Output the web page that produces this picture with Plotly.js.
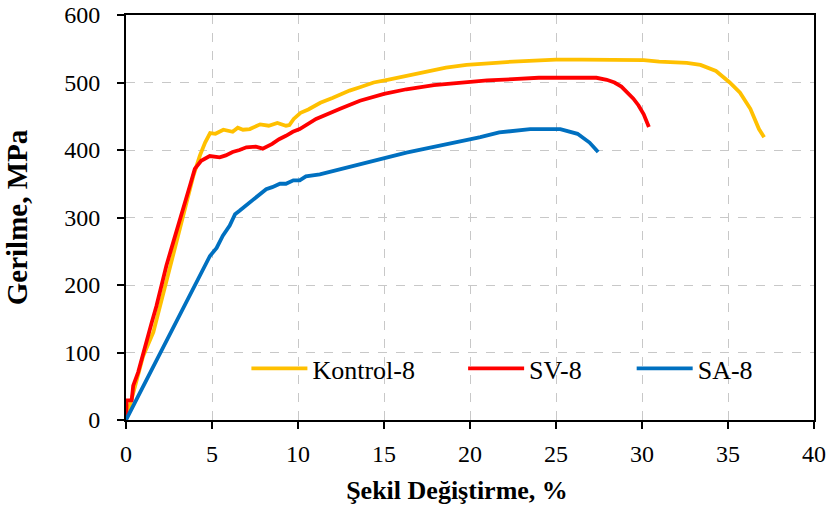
<!DOCTYPE html>
<html>
<head>
<meta charset="utf-8">
<script src="https://cdn.plot.ly/plotly-3.0.1.min.js"></script>
<style>html,body{margin:0;padding:0;background:#fff;}#chart{width:832px;height:509px;}</style>
</head>
<body>
<div id="chart"></div>
<script>
// Kontrol-8
const kontrolX = [0, 0.52, 1.0, 1.59, 2.17, 2.75, 3.32, 3.92, 4.3, 4.6, 4.89, 5.2, 5.66, 6.2, 6.5, 6.8, 7.2, 7.8, 8.3, 8.8, 9.3, 9.5, 9.75, 10.15, 10.6, 11.3, 12.0, 12.5, 13.0, 13.6, 14.4, 15.2, 16.3, 17.5, 18.6, 19.8, 20.6, 21.5, 22.5, 23.1, 25.0, 26.5, 27.6, 29.0, 30.1, 31.0, 31.8, 32.6, 33.4, 34.3, 35.1, 35.7, 36.3, 36.8, 37.1];
const kontrolY = [0, 51, 95, 130, 189, 243, 303, 362, 392, 411, 425, 424, 430, 427, 433, 430, 431, 438, 436, 440, 436, 437, 446, 455, 460, 470, 477, 483, 488, 493, 500, 504, 510, 517, 522, 526, 528, 529, 531, 532, 534, 534, 534, 534, 533, 531, 530, 529, 526, 517, 500, 485, 461, 431, 419];
// SV-8
const svX = [0, 0.04, 0.33, 0.42, 0.71, 0.95, 1.2, 1.5, 1.77, 2.05, 2.35, 2.65, 2.93, 3.2, 3.5, 3.75, 4.0, 4.37, 4.87, 5.1, 5.45, 5.8, 6.2, 6.6, 7.0, 7.55, 7.95, 8.5, 8.9, 9.3, 9.7, 10.1, 11.05, 12.45, 13.6, 15.0, 16.3, 17.9, 19.4, 21.0, 22.5, 24.0, 25.5, 27.35, 27.95, 28.4, 28.8, 29.2, 29.5, 29.8, 30.1, 30.4];
const svY = [0, 29, 29, 51, 71, 95, 120, 145, 169, 200, 229, 255, 278, 302, 327, 350, 372, 384, 391, 390, 389, 392, 397, 400, 404, 405, 402, 409, 416, 421, 427, 431, 446, 461, 473, 483, 490, 496, 500, 503, 505, 507, 507, 507, 504, 500, 494, 484, 476, 466, 453, 434];
// SA-8
const saX = [0, 4.88, 5.27, 5.63, 6.03, 6.34, 6.6, 6.84, 7.4, 8.15, 8.5, 8.95, 9.3, 9.73, 10.1, 10.46, 11.27, 12.47, 13.98, 15.2, 16.3, 17.7, 19.0, 20.4, 20.6, 21.7, 23.5, 25.25, 26.25, 26.95, 27.45];
const saY = [0, 243, 255, 273, 288, 305, 310, 315, 325, 342, 345, 350, 350, 355, 355, 361, 364, 372, 382, 389, 396, 404, 411, 418, 419, 426, 431, 431, 424, 411, 397];

const seriesNames = ['Kontrol-8', 'SV-8', 'SA-8'];
const xTickVals = [0, 5, 10, 15, 20, 25, 30, 35, 40];
const yTickVals = [0, 100, 200, 300, 400, 500, 600];

const FONT = 'Liberation Serif, Times New Roman, serif';
const colors = ['#FFC000', '#FF0000', '#0070C0'];

const traces = [
  {x: kontrolX, y: kontrolY, name: seriesNames[0], legend: 'legend'},
  {x: svX, y: svY, name: seriesNames[1], legend: 'legend2'},
  {x: saX, y: saY, name: seriesNames[2], legend: 'legend3'}
].map((t, i) => Object.assign(t, {
  type: 'scatter', mode: 'lines',
  line: {color: colors[i], width: 3.8, shape: 'linear'}
}));

function leg(x) {
  return {x: x, y: 0.127, xanchor: 'left', yanchor: 'middle', bgcolor: 'rgba(0,0,0,0)',
    borderwidth: 0, font: {family: FONT, size: 26, color: '#000'}, itemwidth: 56};
}

const layout = {
  width: 832, height: 509,
  margin: {l: 126, r: 18, t: 15, b: 89},
  paper_bgcolor: '#fff', plot_bgcolor: '#fff',
  font: {family: FONT, size: 24, color: '#000'},
  showlegend: true,
  legend: leg(0.175),
  legend2: leg(0.49),
  legend3: leg(0.735),
  xaxis: {
    range: [0, 40], tickvals: xTickVals, ticktext: xTickVals.map(String),
    showline: true, linecolor: '#000', linewidth: 2, mirror: true,
    ticks: 'outside', ticklen: 7, tickwidth: 2, tickcolor: '#000',
    showgrid: true, gridcolor: '#c8c8c8', gridwidth: 1, griddash: 'dash',
    zeroline: false, tickfont: {family: FONT, size: 24}, ticklabelstandoff: 4,
    title: {text: '<b>Şekil Değiştirme, %&nbsp;&nbsp;&nbsp;&nbsp;</b>', font: {family: FONT, size: 26}, standoff: 15}
  },
  yaxis: {
    range: [0, 600], tickvals: yTickVals, ticktext: yTickVals.map(String),
    showline: true, linecolor: '#000', linewidth: 2, mirror: true,
    ticks: 'outside', ticklen: 7, tickwidth: 2, tickcolor: '#000',
    showgrid: true, gridcolor: '#c8c8c8', gridwidth: 1, griddash: 'dash',
    zeroline: false, tickfont: {family: FONT, size: 24}, ticklabelstandoff: 12,
    title: {text: '<b>Gerilme, MPa</b>', font: {family: FONT, size: 29}, standoff: 28}
  }
};

Plotly.newPlot('chart', traces, layout, {displayModeBar: false, staticPlot: true});
</script>
</body>
</html>
